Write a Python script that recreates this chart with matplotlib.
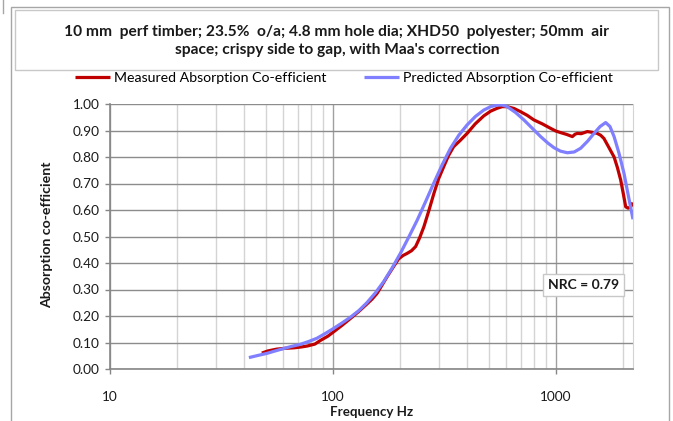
import matplotlib
matplotlib.use("Agg")
import matplotlib.pyplot as plt
from matplotlib.patches import Rectangle
from matplotlib.lines import Line2D
from matplotlib.ticker import FixedLocator, NullFormatter, FuncFormatter

plt.rcParams['font.family'] = ['Lato', 'DejaVu Sans']

# Measured absorption (impedance tube), Hz vs coefficient
freq_measured = [48, 51, 56, 61, 67, 72, 77, 83, 88, 95, 101, 110, 120, 131, 142, 150,
                 158, 166, 175, 186, 197, 206, 215, 225, 235, 245, 256, 270, 284, 298,
                 314, 330, 348, 372, 400, 435, 475, 510, 546, 575, 605, 650, 695, 745,
                 797, 870, 948, 1000, 1052, 1120, 1187, 1220, 1249, 1300, 1385, 1460,
                 1535, 1590, 1644, 1720, 1826, 1890, 1955, 2010, 2059, 2110, 2168, 2220]
alpha_measured = [0.060, 0.068, 0.075, 0.078, 0.080, 0.083, 0.087, 0.094, 0.108, 0.124,
                  0.141, 0.165, 0.191, 0.218, 0.245, 0.264, 0.286, 0.316, 0.348, 0.383,
                  0.415, 0.428, 0.436, 0.446, 0.462, 0.495, 0.537, 0.600, 0.663, 0.718,
                  0.763, 0.805, 0.839, 0.862, 0.889, 0.925, 0.955, 0.973, 0.984, 0.990,
                  0.990, 0.983, 0.971, 0.957, 0.940, 0.925, 0.908, 0.898, 0.892, 0.885,
                  0.877, 0.886, 0.889, 0.888, 0.896, 0.893, 0.889, 0.882, 0.870, 0.840,
                  0.800, 0.760, 0.713, 0.660, 0.612, 0.607, 0.612, 0.628]

# Predicted absorption (Maa model)
freq_predicted = [42, 46, 50.6, 55, 60, 65, 71.4, 78, 84.8, 92, 100.7, 110, 119.7, 131,
                  142, 155, 169, 184, 201, 219, 239, 260, 283, 309, 337, 367, 400, 436,
                  475, 510, 546, 575, 605, 660, 719, 785, 855, 920, 982, 1050, 1127,
                  1210, 1293, 1390, 1484, 1580, 1674, 1750, 1826, 1920, 2023, 2120, 2220]
alpha_predicted = [0.043, 0.051, 0.059, 0.068, 0.077, 0.085, 0.093, 0.104, 0.116, 0.133,
                   0.153, 0.174, 0.195, 0.221, 0.250, 0.287, 0.330, 0.380, 0.437, 0.498,
                   0.562, 0.630, 0.700, 0.770, 0.833, 0.882, 0.921, 0.953, 0.977, 0.990,
                   0.996, 0.996, 0.990, 0.968, 0.940, 0.908, 0.877, 0.853, 0.835, 0.822,
                   0.816, 0.819, 0.833, 0.860, 0.889, 0.915, 0.930, 0.915, 0.877, 0.815,
                   0.738, 0.650, 0.565]

y_ticks = [0.0, 0.1, 0.2, 0.3, 0.4, 0.5, 0.6, 0.7, 0.8, 0.9, 1.0]
x_major = [10, 100, 1000]
x_minor = [20, 30, 40, 50, 60, 70, 80, 90, 200, 300, 400, 500, 600, 700, 800, 900, 2000]
nrc_value = 0.79

title = ("10 mm  perf timber; 23.5%  o/a; 4.8 mm hole dia; XHD50  polyester; 50mm  air\n"
         "space; crispy side to gap, with Maa's correction")

W, H = 673, 421
fig = plt.figure(figsize=(W / 100, H / 100), dpi=100)


def fx(px):
    return px / W


def fy(py):
    return 1 - py / H


# chart-area frame, runs off the bottom edge
fig.patches.append(Rectangle((fx(11), fy(440)), fx(669) - fx(11), fy(7) - fy(440),
                             transform=fig.transFigure, fill=False,
                             edgecolor='#a6a6a6', lw=1.0))
fig.add_artist(Line2D([fx(3), fx(3)], [fy(0), fy(13)], color='#a6a6a6', lw=1.0))

# title box
fig.patches.append(Rectangle((fx(15), fy(70)), fx(658) - fx(15), fy(10) - fy(70),
                             transform=fig.transFigure, fill=False,
                             edgecolor='#c8c8c8', lw=1.0))
fig.text(fx(337), fy(41), title, ha='center', va='center', fontsize=11.2,
         fontweight='bold', linespacing=1.42, color='#1a1a1a')

ax = fig.add_axes([fx(110), fy(369), fx(633) - fx(110), fy(104) - fy(369)])

ax.plot(freq_measured, alpha_measured, color='#c00000', lw=2.3,
        label='Measured Absorption Co-efficient', solid_capstyle='butt')
ax.plot(freq_predicted, alpha_predicted, color='#7f7fff', lw=2.3,
        label='Predicted Absorption Co-efficient', solid_capstyle='butt')

ax.set_xscale('log')
ax.set_xlim(10, 2220)
ax.set_ylim(0, 1.0)

ax.xaxis.set_major_locator(FixedLocator(x_major))
ax.xaxis.set_minor_locator(FixedLocator(x_minor))
ax.xaxis.set_major_formatter(FuncFormatter(lambda v, p: f"{v:g}"))
ax.xaxis.set_minor_formatter(NullFormatter())
ax.yaxis.set_major_locator(FixedLocator(y_ticks))
ax.yaxis.set_major_formatter(FuncFormatter(lambda v, p: f"{v:.2f}"))

ax.grid(which='major', axis='y', color='#8c8c8c', lw=1.0)
ax.grid(which='major', axis='x', color='#a0a0a0', lw=1.0)
ax.grid(which='minor', axis='x', color='#d4d4d4', lw=1.0)
ax.set_axisbelow(True)

ax.spines['top'].set_visible(False)
ax.spines['right'].set_color('#d4d4d4')
ax.spines['left'].set_color('#868686')
ax.spines['bottom'].set_color('#868686')
ax.spines['left'].set_linewidth(1.2)
ax.spines['bottom'].set_linewidth(1.2)

ax.tick_params(axis='both', which='major', direction='out', length=3.6, width=1.0,
               color='#868686', labelsize=9.8, labelcolor='#1a1a1a')
ax.tick_params(axis='x', which='major', pad=12)
ax.tick_params(axis='y', which='major', pad=4)
ax.tick_params(axis='x', which='minor', length=0)

fig.text(fx(372), fy(412), 'Frequency Hz', ha='center', va='center', fontsize=9.6,
         fontweight='bold', color='#1a1a1a')
fig.text(fx(47), fy(235), 'Absorption co-efficient', ha='center', va='center',
         rotation=90, fontsize=10.2, fontweight='bold', color='#1a1a1a')

ax.text(0.905, 0.318, f"NRC = {nrc_value:.2f}", transform=ax.transAxes, ha='center',
        va='center', fontsize=10, fontweight='bold', color='#1a1a1a',
        bbox=dict(boxstyle='square,pad=0.35', fc='white', ec='#c8c8c8', lw=1.0))

fig.legend(loc='center', bbox_to_anchor=(fx(344), fy(78)), ncol=2, frameon=False,
           fontsize=10.2, handlelength=2.5, handletextpad=0.3, columnspacing=2.6,
           borderaxespad=0, borderpad=0)

fig.savefig('out.png', dpi=100)
